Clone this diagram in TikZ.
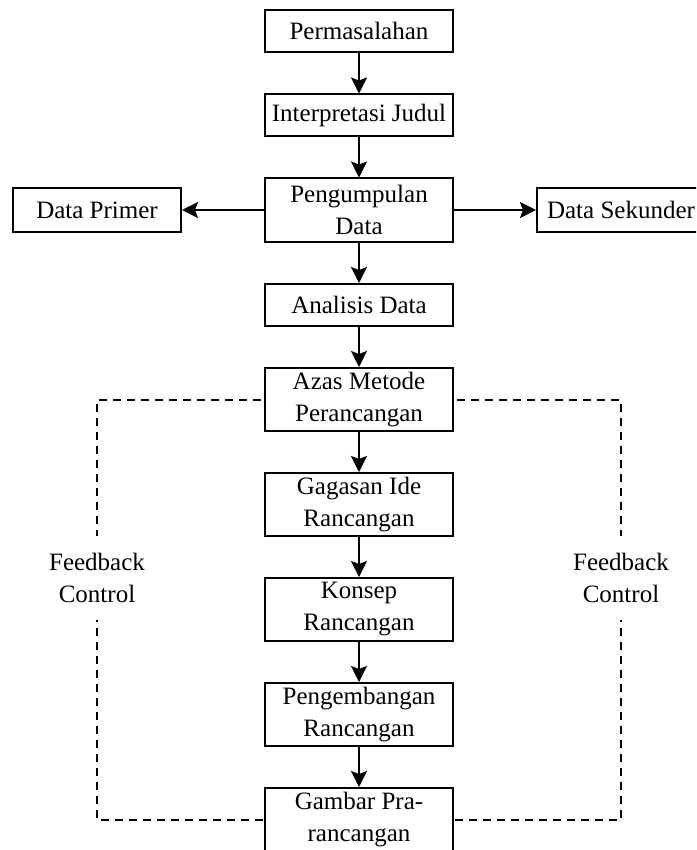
\documentclass[tikz,border=0pt]{standalone}
\usepackage{fontspec}
\setmainfont{Liberation Serif}
\usetikzlibrary{arrows.meta}
\begin{document}
\begin{tikzpicture}[x=0.5pt,y=-0.5pt,
  box/.style={draw,line width=1pt,fill=white,minimum width=94pt,align=center,inner sep=0pt,
    font=\fontsize{12.5}{16}\selectfont},
  onebox/.style={box,minimum height=21pt},
  twobox/.style={box,minimum height=31.5pt},
  sidebox/.style={box,minimum width=84pt,minimum height=21.5pt},
  arr/.style={line width=1pt,-{Stealth[length=8pt,width=8pt,inset=1.5pt]}},
  fb/.style={draw,line width=1pt,dash pattern=on 4pt off 3pt},
  fbtext/.style={fill=white,align=center,inner sep=0pt,minimum height=42pt,
    font=\fontsize{12.5}{16}\selectfont}]
\useasboundingbox (0,0) rectangle (696,850);
\clip (0,0) rectangle (696,850);
\fill[white] (0,0) rectangle (696,850);
% dashed feedback loop (behind boxes)
\coordinate (tl) at (97,399.5);
\coordinate (bl) at (97,819.5);
\coordinate (tr) at (621,399.5);
\coordinate (br) at (621,819.5);
\draw[fb] (359,399.5) -- (tl) -- (bl) -- (359,819.5);
\draw[fb] (359,399.5) -- (tr) -- (br) -- (359,819.5);
\node[fbtext] (fbl) at (97,578) {Feedback\\Control};
\node[fbtext] (fbr) at (621,578) {Feedback\\Control};
% boxes
\node[onebox] (perm) at (359,31) {Permasalahan};
\node[onebox] (interp) at (359,115.5) {Interpretasi Judul};
\node[twobox] (peng) at (359,210) {Pengumpulan\\Data};
\node[sidebox] (prim) at (97,210) {Data Primer};
\node[sidebox] (sek) at (621,210) {Data Sekunder};
\node[onebox] (anal) at (359,305) {Analisis Data};
\node[twobox] (azas) at (359,399.5) {Azas Metode\\Perancangan};
\node[twobox] (gag) at (359,504.5) {Gagasan Ide\\Rancangan};
\node[twobox] (kon) at (359,609.5) {Konsep\\Rancangan};
\node[twobox] (pengem) at (359,714.5) {Pengembangan\\Rancangan};
\node[twobox] (gamb) at (359,819.5) {Gambar Pra-\\rancangan};
% arrows
\draw[arr] (perm) -- (interp);
\draw[arr] (interp) -- (peng);
\draw[arr] (peng) -- (prim);
\draw[arr] (peng) -- (sek);
\draw[arr] (peng) -- (anal);
\draw[arr] (anal) -- (azas);
\draw[arr] (azas) -- (gag);
\draw[arr] (gag) -- (kon);
\draw[arr] (kon) -- (pengem);
\draw[arr] (pengem) -- (gamb);
\end{tikzpicture}
\end{document}
